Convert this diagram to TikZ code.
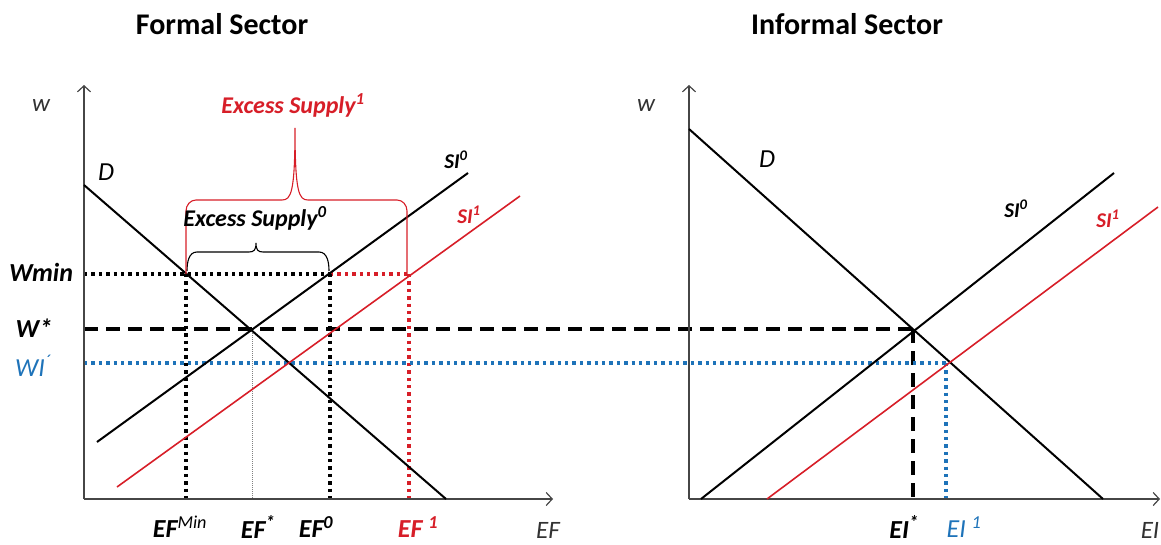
\documentclass[tikz,border=0pt]{standalone}
\usepackage{fontspec}
\setmainfont{Carlito}
\usetikzlibrary{arrows.meta}
\definecolor{mred}{RGB}{215,30,40}
\definecolor{mblue}{RGB}{30,115,185}
\definecolor{axisgray}{RGB}{70,70,70}
\definecolor{txtgray}{RGB}{50,50,50}
\begin{document}
\begin{tikzpicture}[x=1pt,y=-1pt,
  axis/.style={draw=axisgray,line width=1.2pt,-{Straight Barb[length=6pt,width=13pt]}},
  curve/.style={line width=2pt,black},
  redcurve/.style={line width=1.6pt,mred},
  dotline/.style={line width=3.4pt,dash pattern=on 3.4pt off 4pt},
  dashline/.style={line width=3.6pt,dash pattern=on 14pt off 8pt},
  thindot/.style={line width=0.7pt,gray,dash pattern=on 1pt off 1pt},
  bracepath/.style={line width=1.1pt},
  title/.style={font=\fontsize{30}{36}\selectfont\bfseries,inner sep=0pt},
  lbl/.style={font=\fontsize{26}{30}\selectfont\bfseries\itshape,inner sep=0pt},
  ilbl/.style={font=\fontsize{26}{30}\selectfont\itshape,inner sep=0pt},
  axlbl/.style={font=\fontsize{25}{30}\selectfont\itshape,text=txtgray,inner sep=0pt},
  eslbl/.style={font=\fontsize{24}{28}\selectfont\bfseries\itshape,inner sep=0pt},
  slbl/.style={font=\fontsize{21}{25}\selectfont\bfseries\itshape,inner sep=0pt}]
\useasboundingbox (0,0) rectangle (1161,545);

% titles
\node[title] (t1) at (222,24) {Formal Sector};
\node[title] (t2) at (847,24) {Informal Sector};

% ---------- left panel coordinates ----------
\coordinate (L0) at (84,499);
\coordinate (LyT) at (84,85);
\coordinate (LxR) at (553,499);
\coordinate (LD1) at (84,185);
\coordinate (LD2) at (446,499);
\coordinate (LS0a) at (97,442);
\coordinate (LS0b) at (468,173);
\coordinate (LS1a) at (117,487);
\coordinate (LS1b) at (520,196);
\coordinate (Wm0) at (84,274);
\coordinate (Wm1) at (186,274);
\coordinate (Wm2) at (330,274);
\coordinate (Wm3) at (409,274);
\coordinate (B1) at (186,499);
\coordinate (B2) at (252,499);
\coordinate (B3) at (330,499);
\coordinate (B4) at (409,499);
\coordinate (Es) at (252,329);
\coordinate (Ws0) at (84,329);
\coordinate (Ws1) at (913,329);
\coordinate (Ws2) at (913,499);
\coordinate (Wi0) at (84,363);
\coordinate (Wi1) at (946,363);
\coordinate (Wi2) at (946,499);

% ---------- right panel coordinates ----------
\coordinate (R0) at (689,499);
\coordinate (RyT) at (689,85);
\coordinate (RxR) at (1160,499);
\coordinate (RD1) at (689,129);
\coordinate (RD2) at (1103,499);
\coordinate (RS0a) at (701,499);
\coordinate (RS0b) at (1114,173);
\coordinate (RS1a) at (767,499);
\coordinate (RS1b) at (1158,207);

% guide lines
\draw[dotline,black] (Wm0) -- (Wm2);
\draw[dotline,mred] (Wm2) -- (Wm3);
\draw[dotline,black] (Wm1) -- (B1);
\draw[dotline,black] (Wm2) -- (B3);
\draw[dotline,mred] (Wm3) -- (B4);
\draw[thindot] (Es) -- (B2);
\draw[dashline,black] (Ws0) -- (Ws1);
\draw[dashline,black] (Ws1) -- (Ws2);
\draw[dotline,mblue] (Wi0) -- (Wi1);
\draw[dotline,mblue] (Wi1) -- (Wi2);

% axes
\draw[axis] (L0) -- (LyT);
\draw[axis] (L0) -- (LxR);
\draw[axis] (R0) -- (RyT);
\draw[axis] (R0) -- (RxR);

% curves
\draw[curve] (LD1) -- (LD2);
\draw[curve] (LS0a) -- (LS0b);
\draw[redcurve] (LS1a) -- (LS1b);
\draw[curve] (RD1) -- (RD2);
\draw[curve] (RS0a) -- (RS0b);
\draw[redcurve] (RS1a) -- (RS1b);

% braces
\draw[bracepath,black] (187,271) to[out=90,in=180] (197,252) -- (249,252)
  .. controls (254,252) and (256,250) .. (256,243)
  .. controls (256,250) and (258,252) .. (263,252) -- (319,252)
  to[out=0,in=90] (329,271);
\draw[bracepath,mred] (186,274) -- (186,211) to[out=90,in=180] (196,200) -- (282,200)
  .. controls (291,200) and (295,193) .. (295,128)
  .. controls (295,193) and (299,200) .. (308,200) -- (397,200)
  to[out=0,in=90] (407,211) -- (407,274);

% labels left
\node[axlbl] (lw1) at (41,106) {w};
\node[ilbl] (lD1) at (106,172) {D};
\node[slbl] (lS01) at (456,160) {SI\textsuperscript{0}};
\node[slbl,text=mred] (lS11) at (469,215) {SI\textsuperscript{1}};
\node[lbl] (lWmin) at (41,272) {Wmin};
\node[lbl] (lWs) at (34,328) {W*};
\node[ilbl,text=mblue] (lWi) at (33,366) {WI\textsuperscript{´}};
\node[lbl] (lEFm) at (180,527) {EF\textsuperscript{\mdseries Min}};
\node[lbl] (lEFs) at (258,527) {EF\textsuperscript{*}};
\node[lbl] (lEF0) at (316,527) {EF\textsuperscript{0}};
\node[lbl,text=mred] (lEF1) at (418,527) {EF \textsuperscript{1}};
\node[axlbl] (lEF) at (548,530) {EF};
\node[eslbl] (lES0) at (255,218) {Excess Supply\textsuperscript{0}};
\node[eslbl,text=mred] (lES1) at (293,105) {Excess Supply\textsuperscript{1}};

% labels right
\node[axlbl] (lw2) at (646,106) {w};
\node[ilbl] (lD2) at (767,159) {D};
\node[slbl] (lS02) at (1016,209) {SI\textsuperscript{0}};
\node[slbl,text=mred] (lS12) at (1108,219) {SI\textsuperscript{1}};
\node[lbl] (lEIs) at (904,527) {EI\textsuperscript{*}};
\node[ilbl,text=mblue] (lEI1) at (964,527) {EI \textsuperscript{1}};
\node[axlbl] (lEI) at (1150,530) {EI};
\end{tikzpicture}
\end{document}
